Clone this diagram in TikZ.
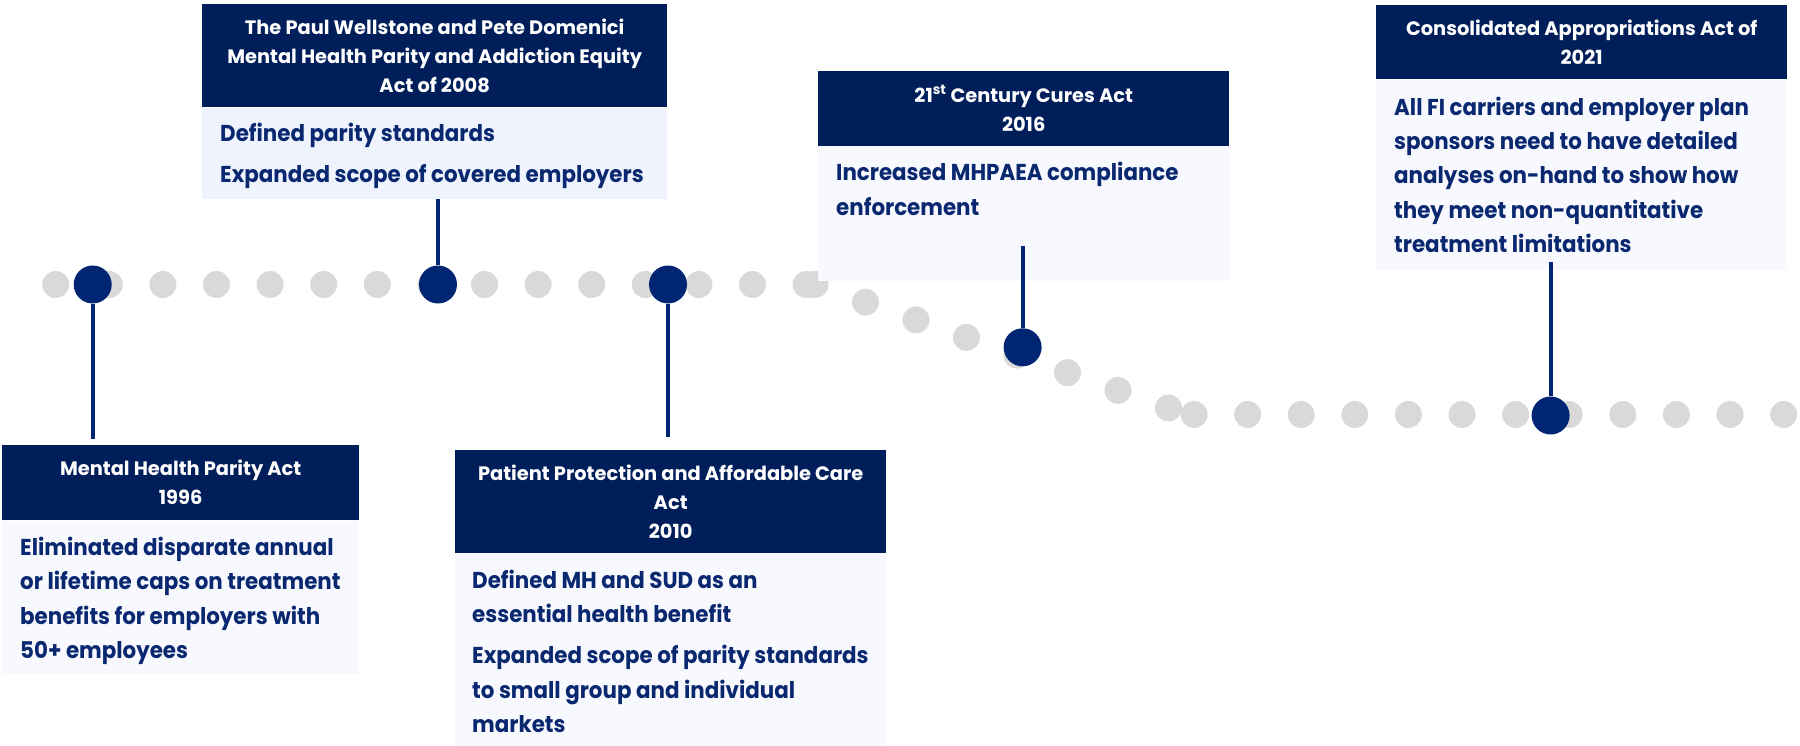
\documentclass[tikz,border=0pt]{standalone}
\usepackage{fontspec}
\setmainfont{Poppins}
\newfontfamily\hdrfont{Poppins}
\newfontfamily\bodyfont{Poppins}[FakeStretch=0.93]
\definecolor{hdrnavy}{RGB}{0,30,90}
\definecolor{dotblue}{RGB}{0,38,115}
\definecolor{textnavy}{RGB}{10,40,112}
\definecolor{dotgray}{RGB}{217,217,217}
\definecolor{bodyblue}{RGB}{238,243,253}
\definecolor{bodylight}{RGB}{247,249,254}
\tikzset{
  hdr/.style={rectangle, fill=hdrnavy, text=white, inner sep=0pt, anchor=north west, align=center,
    font=\hdrfont\bfseries\fontsize{19.4}{29}\selectfont},
  bodybg/.style={rectangle, inner sep=0pt, anchor=north west, fill=bodylight},
  btxt/.style={anchor=base west, inner sep=0pt, align=left, text=textnavy,
    font=\bodyfont\bfseries\fontsize{23}{34.5}\selectfont},
  gdot/.style={circle, fill=dotgray, minimum size=27pt, inner sep=0pt},
  bdot/.style={circle, fill=dotblue, minimum size=38pt, inner sep=0pt},
  conn/.style={draw=dotblue, line width=4pt}
}
\begin{document}
\begin{tikzpicture}[x=1pt,y=-1pt]
\useasboundingbox (0,0) rectangle (1800,746);
% grey timeline dots
\foreach \k in {0,...,14} \node[gdot] (gt\k) at ({55.7+53.6*\k},284.5) {};
\foreach \k in {0,...,7} \node[gdot] (gd\k) at ({815+50.5*\k},{284.5+17.64*\k}) {};
\foreach \k in {0,...,11} \node[gdot] (gb\k) at ({1194+53.6*\k},414.5) {};
% 1996
\node[hdr, minimum width=357pt, minimum height=75pt] (h1996) at (2,445) {Mental Health Parity Act\\1996};
\node[bodybg, minimum width=357pt, minimum height=153pt] (b1996) at (h1996.south west) {};
\node[btxt] (t1996) at (20,658.5) {Eliminated disparate annual\\or lifetime caps on treatment\\benefits for employers with\\50+ employees};
% 2008
\node[hdr, minimum width=465pt, minimum height=103.5pt] (h2008) at (202,3.5) {The Paul Wellstone and Pete Domenici\\Mental Health Parity and Addiction Equity\\Act of 2008};
\node[bodybg, fill=bodyblue, minimum width=465pt, minimum height=91pt] (b2008) at (h2008.south west) {};
\node[btxt] (t2008) at (220,182.7) {Defined parity standards\\[6.5pt]Expanded scope of covered employers};
% 2010
\node[hdr, minimum width=431pt, minimum height=102.7pt] (h2010) at (455,450) {Patient Protection and Affordable Care\\Act\\2010};
\node[bodybg, minimum width=431pt, minimum height=193.3pt] (b2010) at (h2010.south west) {};
\node[btxt] (t2010) at (472,732.9) {Defined MH and SUD as an\\essential health benefit\\[6.8pt]Expanded scope of parity standards\\to small group and individual\\markets};
% 2016
\node[hdr, minimum width=411pt, minimum height=74.5pt] (h2016) at (818,71) {21\textsuperscript{st} Century Cures Act\\2016};
\node[bodybg, minimum width=411pt, minimum height=134.5pt] (b2016) at (h2016.south west) {};
\node[btxt] (t2016) at (836,215.2) {Increased MHPAEA compliance\\enforcement};
% 2021
\node[hdr, minimum width=411pt, minimum height=74pt] (h2021) at (1376,5) {Consolidated Appropriations Act of\\2021};
\node[bodybg, minimum width=411pt, minimum height=190pt] (b2021) at (h2021.south west) {};
\node[btxt] (t2021) at (1394,253) {All FI carriers and employer plan\\sponsors need to have detailed\\analyses on-hand to show how\\they meet non-quantitative\\treatment limitations};
% milestone dots
\node[bdot] (d1996) at (92.7,284.5) {};
\node[bdot] (d2008) at (438,284.5) {};
\node[bdot] (d2010) at (668,284.5) {};
\node[bdot] (d2016) at (1022.6,347.3) {};
\node[bdot] (d2021) at (1550.6,415.5) {};
% connectors
\coordinate (e1996) at (92.7,438.5);
\coordinate (e2010) at (668,437);
\coordinate (s2016) at (1022.6,245.7);
\coordinate (s2021) at (1550.6,262);
\draw[conn] (d1996) -- (e1996);
\draw[conn] (d2008) -- (d2008 |- b2008.south);
\draw[conn] (d2010) -- (e2010);
\draw[conn] (s2016) -- (d2016);
\draw[conn] (s2021) -- (d2021);
\end{tikzpicture}
\end{document}
